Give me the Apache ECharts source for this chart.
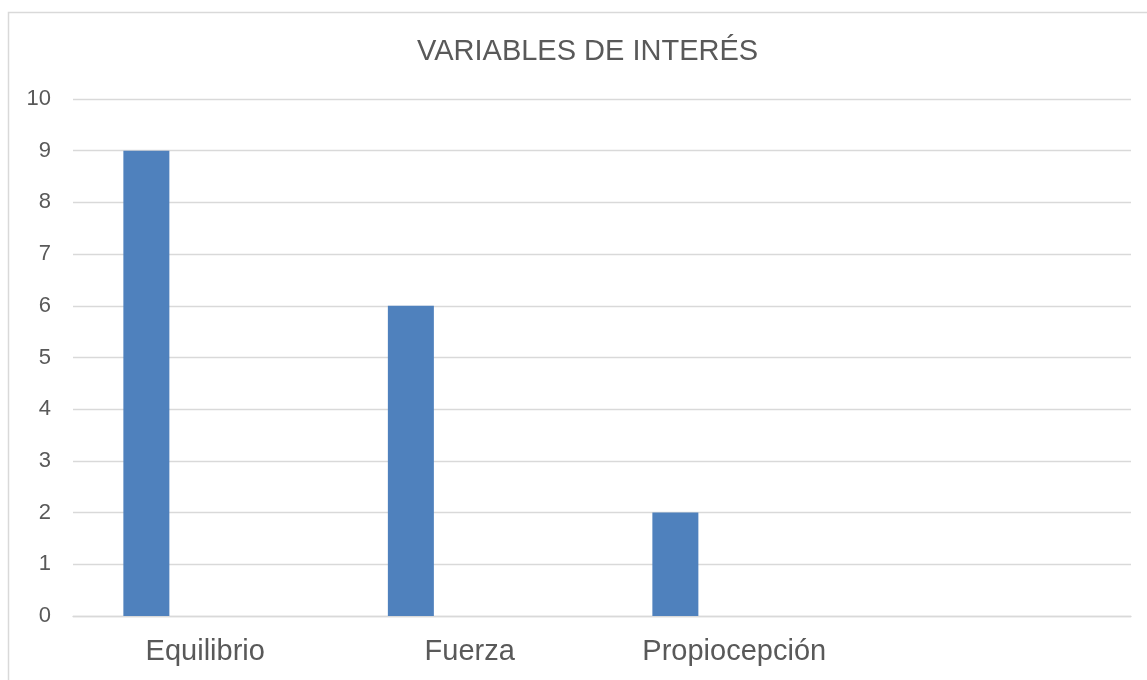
<!DOCTYPE html>
<html>
<head>
<meta charset="utf-8">
<script src="https://cdn.jsdelivr.net/npm/echarts@6/dist/echarts.min.js"></script>
<style>
  html, body { margin: 0; padding: 0; background: #fff; }
  #chart { width: 1147px; height: 680px; }
</style>
</head>
<body>
<div id="chart"></div>
<script>
const categories = ['Equilibrio', 'Fuerza', 'Propiocepción', '']
const serie1 = [9, 6, 2, null]
const serie2 = [null, null, null, null]
const serie3 = [null, null, null, null]
const yTicks = [0, 1, 2, 3, 4, 5, 6, 7, 8, 9, 10]

const myChart = echarts.init(document.getElementById('chart'))

const barSeries = (name, data) => ({
  name,
  type: 'bar',
  data,
  barWidth: 46,
  barGap: '28%',
  itemStyle: { color: '#4f81bd' },
  animation: false
})

myChart.setOption({
  textStyle: { fontFamily: '"Liberation Sans", Arial, sans-serif' },
  title: {
    text: 'VARIABLES DE INTERÉS',
    left: 412,
    top: 32,
    textStyle: {
      fontSize: 29,
      fontWeight: 'normal',
      color: '#595959',
      fontFamily: '"Liberation Sans", Arial, sans-serif'
    }
  },
  graphic: [
    {
      type: 'rect',
      shape: { x: 8.5, y: 12.5, width: 1200, height: 720 },
      style: { fill: 'none', stroke: '#d9d9d9', lineWidth: 1.5 },
      silent: true
    }
  ],
  grid: {
    left: 73,
    right: 16,
    top: 99,
    bottom: 64
  },
  xAxis: {
    type: 'category',
    data: categories,
    axisLine: { lineStyle: { color: '#d9d9d9', width: 1.3 } },
    axisTick: { show: false },
    axisLabel: {
      color: '#595959',
      fontSize: 29,
      margin: 21
    }
  },
  yAxis: {
    type: 'value',
    min: yTicks[0],
    max: yTicks[yTicks.length - 1],
    interval: 1,
    axisLine: { show: false },
    axisTick: { show: false },
    axisLabel: {
      color: '#595959',
      fontSize: 22,
      margin: 22
    },
    splitLine: {
      lineStyle: { color: '#d9d9d9', width: 1.3 }
    }
  },
  series: [
    barSeries('Serie 1', serie1),
    barSeries('Serie 2', serie2),
    barSeries('Serie 3', serie3)
  ]
})
</script>
</body>
</html>
